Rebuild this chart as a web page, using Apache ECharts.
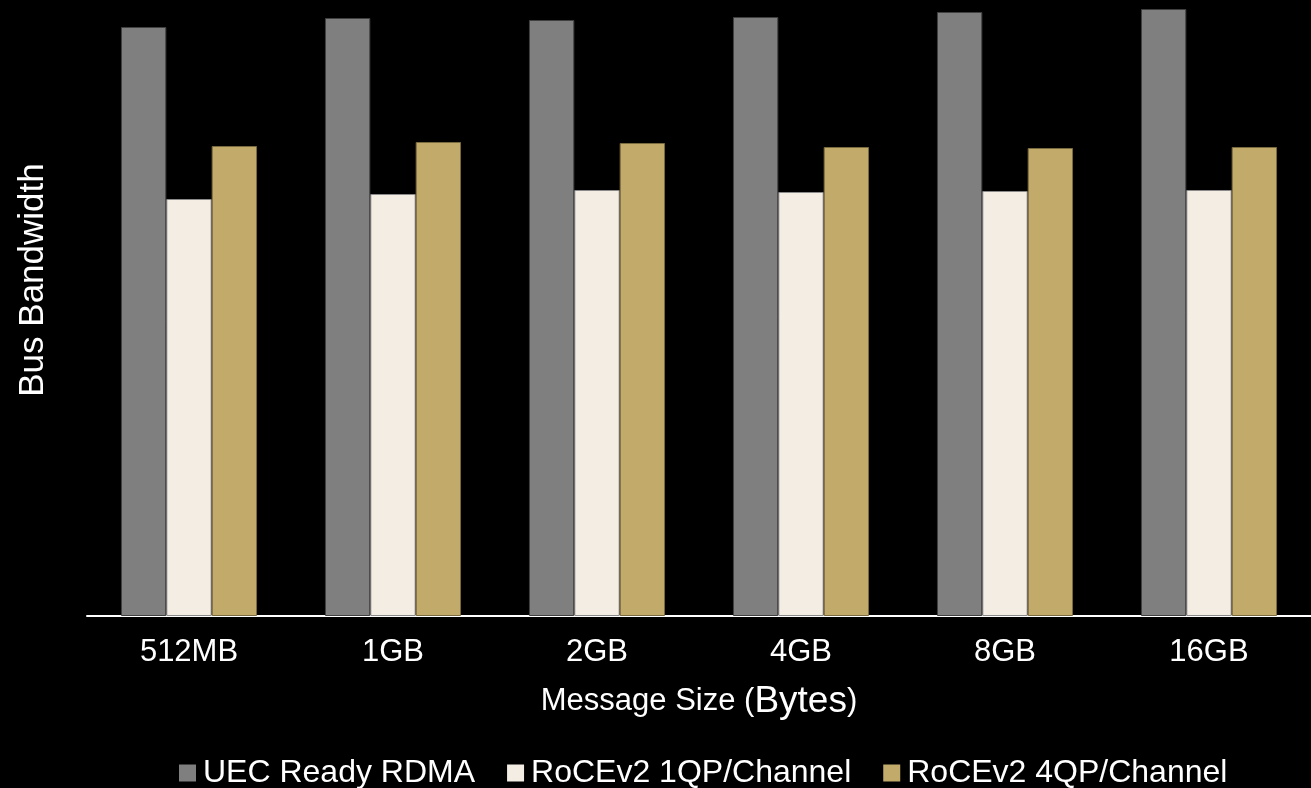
<!DOCTYPE html>
<html>
<head>
<meta charset="utf-8">
<script src="https://cdn.jsdelivr.net/npm/echarts@6/dist/echarts.min.js"></script>
<style>
  html, body { margin: 0; padding: 0; background: #000; }
  #chart { width: 1311px; height: 788px; }
</style>
</head>
<body>
<div id="chart"></div>
<script>
// Message sizes on the x axis
const sizes = ['512MB', '1GB', '2GB', '4GB', '8GB', '16GB'];

// Relative bus bandwidth for each transport (same unit across series)
const uecReady = [589, 598, 596, 599, 604, 607];
const roce1qp  = [417, 422, 426, 424, 425, 426];
const roce4qp  = [470, 474, 473, 469, 468, 469];

const seriesNames = ['UEC Ready RDMA', 'RoCEv2 1QP/Channel', 'RoCEv2 4QP/Channel'];
const axisMax = 616;

const FONT = '"Liberation Sans", Arial, sans-serif';

const chart = echarts.init(document.getElementById('chart'), null, { renderer: 'canvas' });

function barSeries(name, data, fill, border) {
  return {
    name: name,
    type: 'bar',
    data: data,
    barGap: '0%',
    barCategoryGap: '33.3%',
    itemStyle: { color: fill, borderColor: border, borderWidth: 1 },
    emphasis: { disabled: true }
  };
}

chart.setOption({
  backgroundColor: '#000000',
  animation: false,
  textStyle: { fontFamily: FONT },
  grid: { left: 87, right: 0, top: 0, bottom: 172, containLabel: false },
  legend: {
    data: seriesNames,
    left: 179,
    top: 757,
    padding: 0,
    itemWidth: 17,
    itemHeight: 17,
    itemGap: 32,
    icon: 'rect',
    itemStyle: { borderWidth: 0 },
    textStyle: { color: '#ffffff', fontSize: 32, fontFamily: FONT, lineHeight: 32, padding: [0, 0, 0, 2] }
  },
  xAxis: {
    type: 'category',
    data: sizes,
    axisLine: { show: true, lineStyle: { color: '#ffffff', width: 2 } },
    axisTick: { show: false },
    axisLabel: { color: '#ffffff', fontSize: 31, fontFamily: FONT, margin: 21 },
    name: '{a|Message Size (}{b|Bytes}{a|)}',
    nameLocation: 'middle',
    nameGap: 67,
    nameTextStyle: {
      rich: {
        a: { color: '#ffffff', fontSize: 31, fontFamily: FONT },
        b: { color: '#ffffff', fontSize: 37, fontFamily: FONT }
      }
    }
  },
  yAxis: {
    type: 'value',
    min: 0,
    max: axisMax,
    axisLine: { show: false },
    axisTick: { show: false },
    axisLabel: { show: false },
    splitLine: { show: false }
  },
  graphic: [{
    type: 'text',
    x: 33,
    y: 280,
    rotation: Math.PI / 2,
    style: {
      text: 'Bus Bandwidth',
      fill: '#ffffff',
      font: '35px ' + FONT,
      align: 'center',
      verticalAlign: 'middle'
    }
  }],
  series: [
    barSeries(seriesNames[0], uecReady, '#7f7f7f', '#404040'),
    barSeries(seriesNames[1], roce1qp, '#f3ede3', '#8a8a8a'),
    barSeries(seriesNames[2], roce4qp, '#c1aa6a', '#7a6a40')
  ]
});
</script>
</body>
</html>
